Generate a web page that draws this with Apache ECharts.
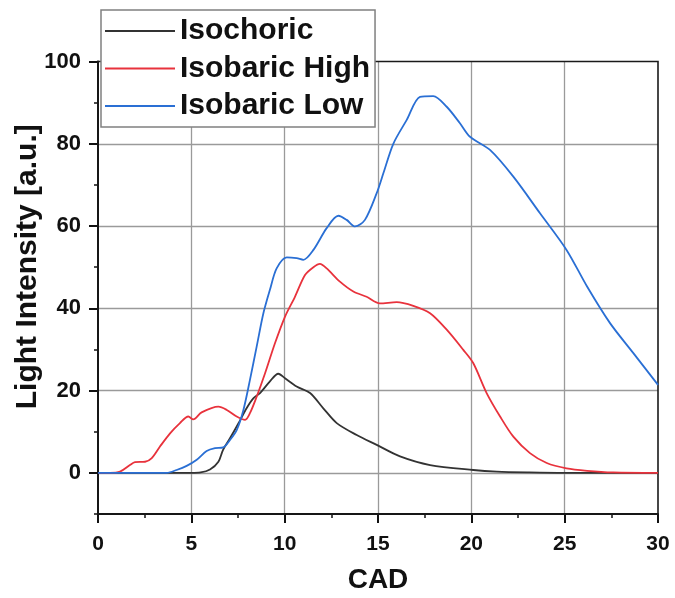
<!DOCTYPE html>
<html><head><meta charset="utf-8">
<script src="https://cdn.jsdelivr.net/npm/echarts@6/dist/echarts.min.js"></script>
<style>html,body{margin:0;padding:0;background:#fff}#c{width:675px;height:598px}</style>
</head><body><div id="c"></div><script>
const seriesNames = ['Isochoric', 'Isobaric High', 'Isobaric Low'];
const xTickValues = [0, 5, 10, 15, 20, 25, 30];
const yTickValues = [0, 20, 40, 60, 80, 100];

const isochoricX = [0, 3, 5, 5.5, 6, 6.45, 6.7, 7.07, 7.52, 7.96, 8.32, 8.68, 9.2, 9.66, 10.02, 10.64, 11.36, 12.07, 12.79, 13.86, 14.93, 16.18, 17.79, 20.1, 21.36, 23.1, 25, 30];
const isochoricY = [0, 0, 0, 0.1, 0.8, 2.7, 5.6, 8.4, 12, 15.7, 18.1, 19.4, 22.2, 24.1, 23, 21, 19.4, 15.7, 12.1, 9.2, 6.8, 4.0, 1.9, 0.7, 0.3, 0.1, 0, 0];

const isobaricHighX = [0, 0.64, 1.18, 1.71, 1.98, 2.52, 2.88, 3.32, 3.86, 4.39, 4.84, 5.1, 5.55, 6.45, 6.9, 7.43, 7.88, 8.14, 8.5, 8.95, 9.48, 10.02, 10.55, 11.09, 11.54, 11.89, 12.25, 12.96, 13.68, 14.39, 15.1, 16.0, 16.89, 17.79, 18.68, 19.57, 20.1, 20.82, 21.54, 22.25, 23.14, 24.04, 25.1, 26.2, 27.6, 30];
const isobaricHighY = [0, 0, 0.3, 1.9, 2.6, 2.7, 3.6, 6.4, 9.6, 12.1, 13.7, 13.0, 14.7, 16.1, 15.3, 13.7, 12.9, 14.5, 18.5, 24.2, 31.5, 38, 42.8, 48.1, 50, 50.8, 49.7, 46.5, 44.1, 42.8, 41.2, 41.5, 40.6, 38.8, 34.8, 29.9, 26.7, 19.4, 13.7, 8.8, 4.8, 2.4, 1.1, 0.5, 0.1, 0];

const isobaricLowX = [0, 3.68, 4.21, 4.75, 5.29, 5.82, 6.27, 6.71, 7.07, 7.43, 7.79, 8.14, 8.5, 8.86, 9.21, 9.57, 10.11, 10.64, 11.0, 11.54, 12.25, 12.88, 13.32, 13.77, 14.3, 14.93, 15.3, 15.82, 16.54, 17.25, 17.96, 18.68, 19.39, 19.93, 21.0, 22.25, 23.68, 25.1, 26.2, 27.43, 28.68, 30];
const isobaricLowY = [0, 0, 0.7, 1.7, 3.2, 5.3, 6.0, 6.2, 8.0, 10.4, 15.3, 22.6, 30.7, 38.8, 44.5, 49.7, 52.4, 52.2, 51.8, 54.2, 59.5, 62.5, 61.5, 59.9, 61.5, 68, 73, 80, 85.8, 91.4, 91.6, 89, 85, 81.7, 78.5, 72, 63.1, 54.2, 45.3, 36.4, 29.1, 21.4];

const colors = ['#333333', '#e8323c', '#2a6fd4'];
const pair = (xs, ys) => xs.map((x, i) => [x, ys[i]]);
const FONT = '"Liberation Sans", Arial, sans-serif';

const chart = echarts.init(document.getElementById('c'), null, {renderer: 'canvas'});
chart.setOption({
  animation: false,
  backgroundColor: '#fff',
  grid: {left: 98, right: 17, top: 61.5, bottom: 84, containLabel: false, outerBoundsMode: 'none',
         show: true, borderColor: '#1a1a1a', borderWidth: 1.6, backgroundColor: 'transparent', z: 3},
  legend: {
    orient: 'vertical', left: 101, top: 10,
    padding: [6, 5, 6, 4], itemGap: 7.5, itemWidth: 70, itemHeight: 2, icon: 'rect',
    backgroundColor: '#fff', borderColor: '#808080', borderWidth: 1.5, borderRadius: 0,
    textStyle: {fontFamily: FONT, fontSize: 30, fontWeight: 'bold', color: '#111', lineHeight: 30},
    data: seriesNames, z: 10
  },
  xAxis: {
    type: 'value', min: 0, max: 30, interval: 5,
    name: 'CAD', nameLocation: 'middle', nameGap: 52, nameMoveOverlap: false,
    nameTextStyle: {fontFamily: FONT, fontSize: 28, fontWeight: 'bold', color: '#111'},
    axisLine: {onZero: false, lineStyle: {color: '#111', width: 2}},
    axisTick: {show: true, length: 9, inside: false, lineStyle: {color: '#111', width: 2}},
    minorTick: {show: true, splitNumber: 2, length: 4, lineStyle: {color: '#111', width: 1.5}},
    axisLabel: {fontFamily: FONT, fontSize: 21, fontWeight: 'bold', color: '#111', margin: 20, showMinLabel: true, showMaxLabel: true},
    splitLine: {show: true, showMinLine: false, showMaxLine: false, lineStyle: {color: '#9a9a9a', width: 1.3}}
  },
  yAxis: [{
    type: 'value', min: -10, max: 100, interval: 10,
    name: 'Light Intensity [a.u.]', nameLocation: 'middle', nameGap: 55, nameMoveOverlap: false,
    nameTextStyle: {fontFamily: FONT, fontSize: 30, fontWeight: 'bold', color: '#111', padding: [0, 0, 0, 42]},
    axisLine: {onZero: false, lineStyle: {color: '#111', width: 2}},
    axisTick: {show: true, length: 4, lineStyle: {color: '#111', width: 1.5}},
    axisLabel: {fontFamily: FONT, fontSize: 22, fontWeight: 'bold', color: '#111', margin: 17,
      formatter: v => (yTickValues.indexOf(Math.round(v)) >= 0 ? String(Math.round(v)) : '')},
    splitLine: {show: true, showMaxLine: false, lineStyle: {color: ['transparent', '#9a9a9a'], width: 1.3}}
  }, {
    type: 'value', min: -10, max: 100, interval: 10, position: 'left',
    axisLine: {show: false},
    axisTick: {show: true, length: 9, customValues: yTickValues, lineStyle: {color: '#111', width: 2}},
    axisLabel: {show: false},
    splitLine: {show: false}
  }],
  series: [
    {name: seriesNames[0], type: 'line', data: pair(isochoricX, isochoricY), symbol: 'none', smooth: 0.3,
     lineStyle: {color: colors[0], width: 1.8}, itemStyle: {color: colors[0]}},
    {name: seriesNames[1], type: 'line', data: pair(isobaricHighX, isobaricHighY), symbol: 'none', smooth: 0.3,
     lineStyle: {color: colors[1], width: 1.8}, itemStyle: {color: colors[1]}},
    {name: seriesNames[2], type: 'line', data: pair(isobaricLowX, isobaricLowY), symbol: 'none', smooth: 0.3,
     lineStyle: {color: colors[2], width: 1.8}, itemStyle: {color: colors[2]}}
  ]
});
</script></body></html>
